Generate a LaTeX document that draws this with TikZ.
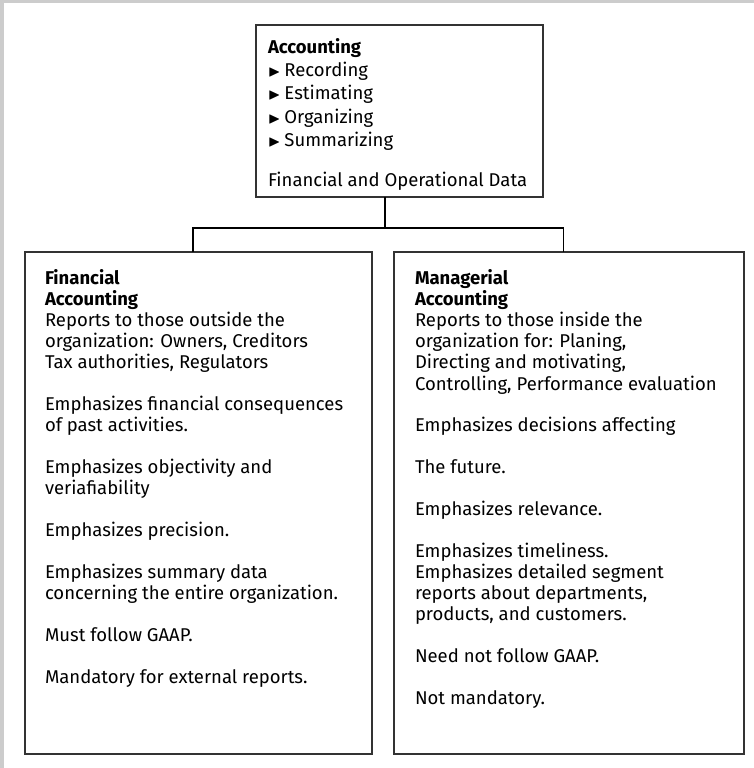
\documentclass[tikz,border=0pt]{standalone}
\usepackage{amssymb}
\usepackage{fontspec}
\setmainfont{Fira Sans}
\usetikzlibrary{positioning}
\newcommand{\bul}{{\fontsize{16pt}{16pt}\selectfont$\blacktriangleright$}\hspace{4pt}}

\begin{document}
\begin{tikzpicture}[x=1pt, y=-1pt, box/.style = {draw=black!80, line width=1.6pt, rectangle, inner sep=0pt, outer sep=0pt}, link/.style = {draw, line width=1.3pt}, node distance=22pt]
		\useasboundingbox (0,0) rectangle (754,768);
		\fill[gray!40] (0,0) rectangle (754,768);
		\fill[white] (4,3) rectangle (754,768);
		\node[box, anchor=north west, minimum width=287pt, minimum height=172pt] (acct) at (256,25) {\parbox[c][172pt][t]{263pt}{\fontsize{18.5pt}{23pt}\selectfont\rule{0pt}{29pt}\textbf{Accounting}\\ \bul Recording\\ \bul Estimating\\ \bul Organizing\\ \bul Summarizing\\[18pt] Financial and Operational Data}};
		\node[box, below left=55pt and 27.5pt of acct.south, minimum width=347pt, minimum height=502pt] (fin) {\parbox[c][502pt][t]{307pt}{\setlength{\parskip}{20.6pt}\fontsize{18.5pt}{21.2pt}\selectfont\rule{0pt}{32pt}\textbf{Financial}\\ \textbf{Accounting}\\ Reports to those outside the\\ organization: Owners, Creditors\\ Tax authorities, Regulators\par Emphasizes financial consequences\\ of past activities.\par Emphasizes objectivity and\\ veriafiability\par Emphasizes precision.\par Emphasizes summary data\\ concerning the entire organization.\par Must follow GAAP.\par Mandatory for external reports.}};
		\node[box, right=of fin, minimum width=350pt, minimum height=502pt] (man) {\parbox[c][502pt][t]{308pt}{\setlength{\parskip}{20.6pt}\fontsize{18.5pt}{21.2pt}\selectfont\rule{0pt}{32pt}\textbf{Managerial}\\ \textbf{Accounting}\\ Reports to those inside the\\ organization for: Planing,\\ Directing and motivating,\\ Controlling, Performance evaluation\par Emphasizes decisions affecting\par The future.\par Emphasizes relevance.\par Emphasizes timeliness.\\ Emphasizes detailed segment\\ reports about departments,\\ products, and customers.\par Need not follow GAAP.\par Not mandatory.}};
		\coordinate (hub) at (385,228);
		\draw[link] (acct.south -| hub) -- (hub);
		\draw[link] ([xshift=-5.5pt]fin.north) |- (hub) -| ([xshift=-5.5pt]man.north);
\end{tikzpicture}
\end{document}
